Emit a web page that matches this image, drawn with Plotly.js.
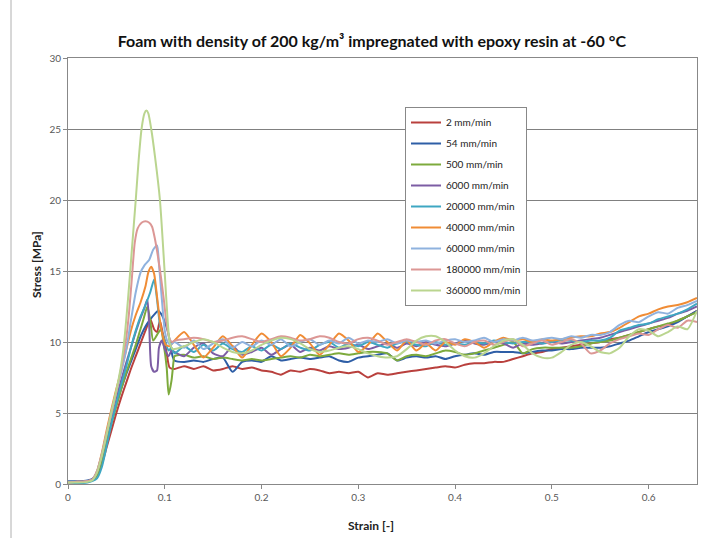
<!DOCTYPE html>
<html>
<head>
<meta charset="utf-8">
<script src="https://cdn.plot.ly/plotly-3.0.1.min.js"></script>
<style>html,body{margin:0;padding:0;background:#fff;}#chart{width:712px;height:538px;}</style>
</head>
<body>
<div id="chart"></div>
<script>
// ---------- DATA ----------
const seriesNames = ["2 mm/min","54 mm/min","500 mm/min","6000 mm/min","20000 mm/min","40000 mm/min","60000 mm/min","180000 mm/min","360000 mm/min"];
const seriesColors = ["#B9403D","#2E5EA6","#7DAA3C","#7C5DA4","#3EA7C2","#F08C35","#8FB2DE","#DC9795","#BAD58F"];

// shared strain grid for the crushing plateau
const strainPlateau = [0.11,0.12,0.13,0.14,0.15,0.16,0.17,0.18,0.19,0.20,
  0.21,0.22,0.23,0.24,0.25,0.26,0.27,0.28,0.29,0.30,
  0.31,0.32,0.33,0.34,0.35,0.36,0.37,0.38,0.39,0.40,
  0.41,0.42,0.43,0.44,0.45,0.46,0.47,0.48,0.49,0.50,
  0.51,0.52,0.53,0.54,0.55,0.56,0.57,0.58,0.59,0.60,
  0.61,0.62,0.63,0.64,0.65];

// 2 mm/min
const s2_riseX = [0,0.01,0.02,0.025,0.03,0.035,0.04,0.045,0.05,0.055,0.06,0.065,0.07,0.075,0.08,0.085,0.089,0.092,0.095,0.098,0.1,0.102,0.105];
const s2_riseY = [0.1,0.15,0.2,0.3,0.6,1.4,2.6,3.8,5.0,6.1,7.1,8.1,9.0,9.9,10.8,11.6,10.9,10.7,11.5,10.6,10.1,9.2,8.2];
const s2_plateau = [8.1,8.3,8.1,8.3,8.0,8.1,8.3,8.1,8.2,8.0,
  7.9,7.7,8.0,7.9,8.1,8.0,7.8,7.9,7.8,7.9,
  7.5,7.8,7.7,7.8,7.9,8.0,8.1,8.2,8.3,8.2,
  8.4,8.5,8.5,8.6,8.6,8.8,9.0,9.2,9.3,9.5,
  9.6,9.7,9.8,9.9,10.0,10.2,10.3,10.5,10.7,10.9,
  11.1,11.2,11.5,11.8,12.2];

// 54 mm/min
const s54_riseX = [0,0.01,0.02,0.025,0.03,0.035,0.04,0.045,0.05,0.055,0.06,0.065,0.07,0.075,0.08,0.085,0.09,0.093,0.097,0.1,0.103,0.106,0.108];
const s54_riseY = [0.2,0.2,0.25,0.35,0.8,1.8,3.1,4.4,5.6,6.7,7.7,8.6,9.5,10.4,11.1,11.6,12.0,12.2,11.9,11.4,10.8,9.8,9.0];
const s54_plateau = [8.7,8.6,8.7,8.6,8.8,8.9,7.9,8.6,8.7,8.6,
  9.0,8.7,8.8,8.9,8.8,8.9,9.0,8.7,8.6,8.9,
  9.0,9.1,9.2,8.7,8.9,9.0,8.9,9.0,8.8,9.0,
  9.1,9.2,9.1,9.3,9.3,9.3,9.2,9.3,9.4,9.4,
  9.5,9.5,9.6,9.6,9.6,9.7,9.9,10.1,10.4,10.7,
  10.9,11.1,11.4,11.8,12.2];

// 500 mm/min
const s500_riseX = [0,0.01,0.02,0.025,0.03,0.035,0.04,0.045,0.05,0.055,0.06,0.065,0.07,0.074,0.078,0.082,0.085,0.088,0.092,0.096,0.099,0.102,0.104,0.107,0.109];
const s500_riseY = [0.1,0.1,0.15,0.25,0.6,1.6,3.0,4.3,5.5,6.7,7.8,8.8,9.8,10.7,11.6,12.5,11.5,10.1,10.5,10.9,9.8,8.2,6.3,7.3,8.6];
const s500_plateau = [9.0,9.1,8.9,9.0,8.8,8.9,8.8,8.7,8.8,8.7,
  8.8,8.9,9.0,8.9,9.1,9.0,9.1,9.2,9.1,9.2,
  9.3,9.3,9.2,8.7,9.0,9.1,9.0,9.2,9.4,9.3,
  9.1,9.2,9.4,9.6,9.8,10.0,9.2,9.5,9.6,9.6,
  9.6,9.6,9.7,9.9,10.0,10.1,10.3,10.5,10.7,10.9,
  11.1,11.3,11.5,11.8,12.1];

// 6000 mm/min
const s6000_riseX = [0,0.01,0.02,0.025,0.03,0.035,0.04,0.045,0.05,0.055,0.06,0.065,0.07,0.075,0.079,0.082,0.084,0.086,0.089,0.092,0.094,0.097,0.1,0.104,0.107];
const s6000_riseY = [0.1,0.15,0.2,0.3,0.8,2.0,3.5,4.9,6.1,7.3,8.5,9.6,10.7,11.7,12.4,13.0,11.0,8.3,7.9,8.0,9.6,10.1,9.5,9.0,9.4];
const s6000_plateau = [9.3,9.0,9.6,9.9,9.2,9.0,9.7,9.1,9.3,9.6,
  9.1,9.5,9.8,9.3,9.6,9.4,9.7,9.5,9.6,9.8,
  9.5,9.7,9.9,9.6,9.9,9.7,10.0,9.8,9.7,9.9,
  10.1,9.9,9.8,10.0,9.9,9.6,9.9,9.8,9.9,10.0,
  9.9,10.0,10.1,10.2,10.3,10.5,10.7,10.9,11.1,11.3,
  11.5,11.7,12.0,12.2,12.5];

// 20000 mm/min
const s20000_riseX = [0,0.01,0.02,0.025,0.03,0.035,0.04,0.045,0.05,0.055,0.06,0.065,0.07,0.075,0.08,0.085,0.089,0.092,0.095,0.098,0.101,0.104,0.107];
const s20000_riseY = [0.05,0.05,0.1,0.2,0.4,1.2,2.7,4.3,5.7,7.0,8.2,9.6,10.8,11.8,12.6,13.5,14.4,13.0,11.2,10.5,9.9,9.4,9.6];
const s20000_plateau = [9.2,9.7,9.3,9.8,9.4,9.9,9.5,9.3,9.7,9.4,
  9.8,9.5,9.9,9.6,9.4,9.8,10.0,9.6,9.9,9.7,
  10.0,9.8,9.6,9.9,10.0,9.8,9.7,10.0,9.8,9.9,
  9.8,10.0,9.9,10.1,10.0,9.9,10.0,10.0,9.9,10.0,
  10.1,10.1,10.0,10.1,10.1,10.3,10.8,11.0,11.2,11.3,
  11.6,11.8,12.0,12.3,12.7];

// 40000 mm/min
const s40000_riseX = [0,0.01,0.02,0.025,0.03,0.035,0.04,0.045,0.05,0.055,0.06,0.065,0.07,0.075,0.08,0.083,0.086,0.089,0.092,0.095,0.098,0.101,0.105];
const s40000_riseY = [0.1,0.15,0.2,0.3,0.9,2.2,3.8,5.3,6.7,8.0,9.4,10.8,11.9,12.8,13.9,14.9,15.3,14.8,13.2,11.5,10.4,9.8,9.7];
const s40000_plateau = [10.1,10.7,9.8,8.9,9.6,10.4,9.7,8.9,9.8,10.6,
  10.0,9.0,9.6,10.5,9.9,9.1,9.8,10.6,10.1,9.3,
  9.8,10.6,10.0,9.4,10.1,9.4,9.9,9.4,10.0,9.8,
  10.2,10.0,9.6,10.0,10.3,10.1,10.2,10.0,10.2,10.1,
  10.2,10.3,10.4,10.4,10.6,10.7,11.0,11.4,11.8,12.0,
  12.3,12.5,12.6,12.8,13.1];

// 60000 mm/min
const s60000_riseX = [0,0.01,0.02,0.025,0.03,0.035,0.04,0.045,0.05,0.055,0.06,0.065,0.07,0.075,0.079,0.084,0.088,0.092,0.094,0.097,0.1,0.103,0.106];
const s60000_riseY = [0.1,0.15,0.2,0.3,0.9,2.1,3.6,5.1,6.5,7.9,9.4,11.5,13.5,14.9,15.4,15.8,16.5,16.8,15.5,13.0,10.8,10.0,9.8];
const s60000_plateau = [10.0,9.6,10.1,9.5,9.9,10.2,9.6,10.0,9.7,10.1,
  9.8,10.2,9.7,10.0,10.2,9.8,10.1,9.9,10.3,9.9,
  10.1,10.0,10.2,9.9,10.1,10.0,10.1,9.9,10.1,10.2,
  10.0,10.1,10.3,10.0,10.2,10.1,10.3,10.1,10.2,10.3,
  10.2,10.4,10.3,10.5,10.5,10.7,11.2,11.5,11.4,11.8,
  12.1,12.0,12.4,12.6,12.9];

// 180000 mm/min
const s180000_riseX = [0,0.01,0.02,0.025,0.03,0.035,0.04,0.045,0.05,0.055,0.06,0.063,0.066,0.069,0.072,0.076,0.08,0.084,0.087,0.09,0.093,0.096,0.099,0.102,0.105,0.108];
const s180000_riseY = [0.1,0.15,0.2,0.3,0.9,2.1,3.6,5.0,6.5,8.2,10.2,12.0,14.5,17.0,18.0,18.4,18.5,18.4,18.1,17.2,16.0,14.6,13.0,11.2,10.2,10.0];
const s180000_plateau = [10.1,10.2,10.3,10.2,10.0,10.1,10.3,10.4,10.2,10.0,
  10.2,10.4,10.3,10.1,10.2,10.4,10.3,10.0,9.9,10.2,
  10.3,10.1,9.8,10.0,10.2,10.0,9.8,10.1,10.2,9.9,
  9.7,10.0,10.1,9.8,10.0,10.2,9.7,9.9,10.1,9.8,
  10.0,10.2,9.9,9.2,9.4,9.9,10.2,10.4,10.6,10.5,
  10.9,11.2,11.0,11.5,11.4];

// 360000 mm/min
const s360000_riseX = [0,0.01,0.02,0.025,0.03,0.035,0.04,0.045,0.05,0.055,0.058,0.062,0.066,0.07,0.073,0.076,0.079,0.081,0.083,0.086,0.09,0.095,0.1,0.103,0.105,0.108];
const s360000_riseY = [0.1,0.1,0.15,0.25,0.8,2.0,3.5,5.1,6.6,8.4,10.0,13.0,16.5,20.0,22.8,25.0,26.1,26.3,26.1,25.0,23.0,20.0,14.8,11.5,10.0,9.5];
const s360000_plateau = [9.5,9.7,10.0,10.2,10.0,9.6,9.3,9.2,9.4,9.8,
  10.1,10.3,10.2,9.9,9.5,9.3,9.4,9.6,9.7,9.5,
  9.2,9.0,8.9,9.0,9.5,10.1,10.4,10.4,10.0,9.4,
  9.0,8.9,9.2,9.7,10.1,10.2,9.8,9.2,8.9,8.9,
  9.3,9.8,10.0,9.7,9.3,9.2,9.6,10.4,10.9,10.8,
  10.4,10.7,11.1,10.9,12.2];

const xTickVals = [0,0.1,0.2,0.3,0.4,0.5,0.6];
const xTickText = ["0","0.1","0.2","0.3","0.4","0.5","0.6"];
const yTickVals = [0,5,10,15,20,25,30];

// ---------- BUILD ----------
const riseX = [s2_riseX,s54_riseX,s500_riseX,s6000_riseX,s20000_riseX,s40000_riseX,s60000_riseX,s180000_riseX,s360000_riseX];
const riseY = [s2_riseY,s54_riseY,s500_riseY,s6000_riseY,s20000_riseY,s40000_riseY,s60000_riseY,s180000_riseY,s360000_riseY];
const plateaus = [s2_plateau,s54_plateau,s500_plateau,s6000_plateau,s20000_plateau,s40000_plateau,s60000_plateau,s180000_plateau,s360000_plateau];

const FONT = "Lato, 'Open Sans', sans-serif";
const traces = seriesNames.map((name, i) => ({
  type: 'scatter',
  mode: 'lines',
  name: name,
  legendgroup: 'g' + i,
  x: riseX[i].concat(strainPlateau),
  y: riseY[i].concat(plateaus[i]),
  line: {color: seriesColors[i], width: 2, shape: 'spline', smoothing: 0.6},
  hoverinfo: 'skip'
}));

const layout = {
  width: 712, height: 538,
  margin: {l: 68, r: 15, t: 58, b: 54, pad: 0},
  paper_bgcolor: '#ffffff',
  plot_bgcolor: '#ffffff',
  font: {family: FONT, color: '#333333'},
  showlegend: true,
  title: {
    text: '<b>Foam with density of 200 kg/m³ impregnated with epoxy resin at -60 °C</b>',
    font: {family: FONT, size: 16, color: '#111111'},
    x: 0.483, xref: 'paper', xanchor: 'center',
    y: 1 - 41/538, yref: 'container', yanchor: 'middle'
  },
  xaxis: {
    range: [0, 0.65], tickvals: xTickVals, ticktext: xTickText,
    showgrid: false, zeroline: false,
    showline: true, linecolor: '#888888', linewidth: 1, mirror: true,
    ticks: 'outside', ticklen: 4, tickcolor: '#888888',
    tickfont: {family: FONT, size: 10, color: '#595959'}
  },
  yaxis: {
    range: [0, 30], tickvals: yTickVals,
    showgrid: true, gridcolor: '#808080', gridwidth: 1, zeroline: false,
    showline: true, linecolor: '#888888', linewidth: 1, mirror: true,
    ticks: 'outside', ticklen: 4, tickcolor: '#888888',
    tickfont: {family: FONT, size: 10, color: '#595959'}
  },
  legend: {
    x: (405-68)/629, y: (484-107)/426, xanchor: 'left', yanchor: 'top',
    bgcolor: '#ffffff', bordercolor: '#888888', borderwidth: 1,
    font: {family: FONT, size: 10, color: '#222222'},
    tracegroupgap: 2, traceorder: 'grouped'
  },
  shapes: [
    {type: 'line', xref: 'paper', yref: 'paper', x0: (11-68)/629, x1: (11-68)/629, y0: -0.2, y1: 1.2,
     line: {color: '#b0b0b0', width: 1}}
  ],
  annotations: [
    {text: '<b>Stress [MPa]</b>', xref: 'paper', yref: 'paper', x: (36-68)/629, y: (484-265)/426,
     xanchor: 'center', yanchor: 'middle', textangle: -90, showarrow: false,
     font: {family: FONT, size: 12, color: '#222222'}},
    {text: '<b>Strain [-]</b>', xref: 'paper', yref: 'paper', x: (371-68)/629, y: (484-525)/426,
     xanchor: 'center', yanchor: 'middle', showarrow: false,
     font: {family: FONT, size: 12, color: '#222222'}}
  ]
};

Plotly.newPlot('chart', traces, layout, {displayModeBar: false, staticPlot: true});
</script>
</body>
</html>
